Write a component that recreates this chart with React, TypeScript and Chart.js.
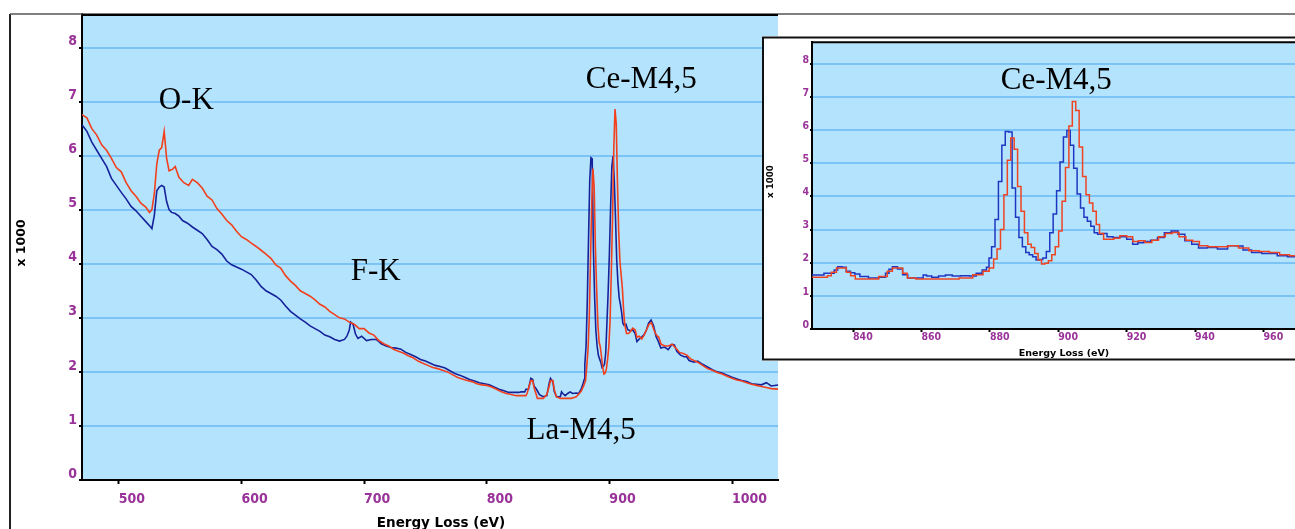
import React, { useEffect, useRef } from 'react';
import { Chart, registerables } from 'chart.js';

Chart.register(...registerables);

// ---- data: [energy loss (eV), counts x1000] ----
const RED_LOW: [number, number][] = [
  [470, 6.76], [474, 6.7], [478, 6.5], [482, 6.38], [486, 6.2], [490, 6.1], [494, 5.95], [498, 5.78],
  [502, 5.7], [506, 5.5], [510, 5.35], [514, 5.25], [518, 5.12], [522, 5.05], [525, 4.95], [527, 5.0],
  [529, 5.3], [531, 5.85], [533, 6.1], [535, 6.15], [537, 6.45], [539, 5.95], [541, 5.72], [544, 5.75],
  [546, 5.8], [549, 5.6], [553, 5.5], [557, 5.45], [560, 5.56], [564, 5.5], [568, 5.4], [572, 5.25],
  [576, 5.18], [580, 5.02], [584, 4.92], [588, 4.8], [592, 4.72], [596, 4.6], [600, 4.5], [604, 4.45],
  [608, 4.38], [612, 4.32], [616, 4.25], [620, 4.18], [624, 4.1], [628, 3.98], [632, 3.92], [636, 3.78],
  [640, 3.68], [644, 3.6], [648, 3.5], [652, 3.45], [656, 3.4], [660, 3.33], [664, 3.25], [668, 3.2],
  [672, 3.12], [676, 3.06], [680, 3.0], [684, 2.98], [688, 2.92], [692, 2.88], [696, 2.8], [700, 2.8],
  [704, 2.72], [708, 2.68], [712, 2.58], [716, 2.52], [720, 2.48], [724, 2.42], [728, 2.38], [732, 2.35],
  [736, 2.3], [740, 2.26], [744, 2.2], [748, 2.16], [752, 2.12], [756, 2.08], [760, 2.06], [764, 2.03],
  [768, 2.0], [772, 1.95], [776, 1.9], [780, 1.87], [784, 1.84], [788, 1.82], [792, 1.78], [796, 1.76],
  [800, 1.75], [804, 1.72], [808, 1.68], [812, 1.63], [816, 1.6], [820, 1.58], [824, 1.56],
];
const RED_EDGE: [number, number][] = [
  [828, 1.56], [832, 1.56], [833, 1.61], [834.3, 1.71], [836, 1.84], [837.5, 1.84], [838.6, 1.71], [840, 1.61],
  [841.3, 1.51], [846, 1.51], [849, 1.58], [851, 1.74], [852, 1.84], [854, 1.84], [855, 1.68], [856.7, 1.54],
  [860, 1.51], [865, 1.51], [869, 1.51], [873, 1.54], [877, 1.64], [879, 1.74], [880.6, 1.84], [881.6, 2.11],
  [882.6, 2.41], [883.6, 3.0], [884.6, 4.05], [885.6, 5.09], [886.6, 5.76], [887.6, 5.42], [888.6, 4.3],
  [889.6, 3.55], [890.6, 2.9], [891.6, 2.56], [892.6, 2.46], [893.6, 2.28], [894.6, 2.08], [895.6, 1.96],
  [896.6, 1.98], [897.6, 2.06], [898.6, 2.24], [899.6, 2.48], [900.6, 2.96], [901.6, 3.85], [902.6, 4.87],
  [903.6, 6.12], [904.6, 6.86], [905.6, 6.59], [906.6, 5.49], [907.6, 4.6], [908.6, 4.05], [909.6, 3.8],
  [910.6, 3.55], [911.6, 3.15], [912.5, 2.88], [914, 2.71], [915.5, 2.71], [917, 2.74], [919, 2.81],
  [921, 2.78], [922.5, 2.64], [924.3, 2.66], [926.4, 2.61], [928.3, 2.68], [930.3, 2.78], [932.3, 2.88],
  [934.3, 2.91], [936.3, 2.78], [938.3, 2.68], [940.3, 2.64], [942.2, 2.51], [945.3, 2.48], [948.2, 2.48],
  [951.2, 2.51], [954.2, 2.44], [957.2, 2.36], [960.2, 2.34], [963.2, 2.31], [966.2, 2.24], [969, 2.21],
];
const RED_TAIL: [number, number][] = [
  [972, 2.18], [976, 2.12], [980, 2.06], [984, 2.03], [988, 1.99], [992, 1.96], [996, 1.92], [1000, 1.88],
  [1004, 1.85], [1008, 1.83], [1012, 1.8], [1016, 1.77], [1020, 1.75], [1024, 1.73], [1028, 1.71],
  [1032, 1.69], [1038, 1.68],
];

const BLUE_LOW: [number, number][] = [
  [470, 6.57], [474, 6.45], [478, 6.25], [482, 6.1], [486, 5.95], [490, 5.8], [494, 5.58], [498, 5.45],
  [502, 5.32], [506, 5.2], [510, 5.06], [514, 4.98], [518, 4.88], [522, 4.78], [526, 4.68], [527, 4.65],
  [529, 4.9], [531, 5.35], [533, 5.42], [535, 5.45], [537, 5.42], [539, 5.15], [541, 5.0], [543, 4.95],
  [546, 4.93], [549, 4.88], [552, 4.8], [556, 4.75], [560, 4.68], [564, 4.62], [568, 4.56], [572, 4.45],
  [576, 4.32], [580, 4.26], [584, 4.18], [588, 4.05], [592, 3.98], [596, 3.94], [600, 3.9], [604, 3.85],
  [608, 3.8], [612, 3.7], [616, 3.58], [620, 3.5], [624, 3.45], [628, 3.4], [632, 3.33], [636, 3.22],
  [640, 3.12], [644, 3.05], [648, 2.98], [652, 2.92], [656, 2.85], [660, 2.8], [664, 2.75], [668, 2.68],
  [672, 2.65], [676, 2.6], [680, 2.57], [684, 2.6], [686, 2.66], [688, 2.78], [689, 2.92], [691, 2.88],
  [693, 2.7], [695, 2.62], [698, 2.66], [702, 2.58], [706, 2.6], [710, 2.6], [714, 2.52], [718, 2.48],
  [722, 2.45], [726, 2.44], [730, 2.42], [734, 2.36], [738, 2.32], [742, 2.28], [746, 2.23], [750, 2.2],
  [754, 2.16], [758, 2.12], [762, 2.1], [766, 2.07], [770, 2.02], [774, 1.97], [778, 1.94], [782, 1.9],
  [786, 1.86], [790, 1.83], [794, 1.8], [798, 1.78], [802, 1.76], [806, 1.72], [810, 1.68], [814, 1.65],
  [818, 1.62], [822, 1.62], [826, 1.62],
];
const BLUE_EDGE: [number, number][] = [
  [828, 1.63], [831, 1.63], [832, 1.68], [834, 1.68], [835, 1.78], [836, 1.88], [837.5, 1.86], [838.5, 1.74],
  [840, 1.7], [841, 1.66], [843, 1.58], [846, 1.54], [849, 1.56], [850, 1.68], [851, 1.8], [852, 1.88],
  [854, 1.81], [855, 1.64], [857, 1.54], [860, 1.54], [861, 1.63], [862, 1.6], [864, 1.56], [866, 1.6],
  [868, 1.63], [870, 1.6], [873, 1.61], [875, 1.6], [877, 1.68], [878.5, 1.78], [879.5, 1.86], [880, 2.14],
  [881, 2.48], [882, 3.3], [883, 4.45], [884, 5.54], [885, 5.96], [886, 5.94], [887, 4.25], [888, 3.37],
  [889, 2.76], [890, 2.48], [891, 2.31], [892, 2.24], [893, 2.18], [894, 2.08], [895, 2.1], [896, 2.14],
  [897, 2.34], [898, 2.9], [899, 3.47], [900, 4.17], [901, 5.04], [902, 5.79], [903, 5.99], [904, 5.54],
  [905, 4.85], [906, 4.07], [907, 3.65], [908, 3.37], [909, 3.25], [910, 3.1], [911, 2.9], [912, 2.86],
  [913.5, 2.88], [915, 2.78], [917, 2.76], [919, 2.78], [921, 2.71], [922.5, 2.56], [924, 2.6], [926, 2.64],
  [928, 2.68], [930, 2.76], [932, 2.9], [934, 2.96], [936, 2.86], [938, 2.66], [940, 2.56], [942, 2.44],
  [945, 2.46], [948, 2.41], [951, 2.51], [953, 2.5], [955, 2.38], [958, 2.31], [961, 2.28], [963, 2.28],
  [965, 2.21], [969, 2.18],
];
const BLUE_TAIL: [number, number][] = [
  [972, 2.2], [976, 2.14], [980, 2.09], [984, 2.04], [988, 2.0], [992, 1.98], [996, 1.94], [1000, 1.9],
  [1004, 1.87], [1008, 1.84], [1012, 1.82], [1016, 1.78], [1020, 1.77], [1024, 1.76], [1028, 1.8],
  [1032, 1.74], [1038, 1.76],
];

const MAIN_X_TICKS = [500, 600, 700, 800, 900, 1000];
const INSET_X_TICKS = [840, 860, 880, 900, 920, 940, 960];
const Y_TICKS = [0, 1, 2, 3, 4, 5, 6, 7, 8];
const X_TITLE = 'Energy Loss (eV)';
const Y_TITLE = 'x 1000';

// edge labels, placed in data coordinates (energy, counts)
const MAIN_NOTES = [
  { text: 'O-K', e: 555, v: 6.87 },
  { text: 'F-K', e: 709.5, v: 3.7 },
  { text: 'Ce-M4,5', e: 926, v: 7.26 },
  { text: 'La-M4,5', e: 877, v: 0.76 },
];
const INSET_NOTES = [{ text: 'Ce-M4,5', e: 899.4, v: 7.25 }];

// ---- styles ----
const PLOT_BG = '#b4e3fd';
const GRID = '#7cc4f6';
const TICK_COLOR = '#993399';
const RED = '#f2401d';
const BLUE_MAIN = '#16229a';
const RED_INSET = '#ee4422';
const BLUE_INSET = '#1f36c2';
const TICK_FAMILY = "'DejaVu Sans Condensed', 'DejaVu Sans', sans-serif";
const TITLE_FAMILY = "'DejaVu Sans', sans-serif";
const NOTE_FONT = "31px 'Liberation Serif', 'Times New Roman', serif";

const toPts = (arr: [number, number][]) => arr.map(([x, y]) => ({ x, y }));
const RED_ALL = [...RED_LOW, ...RED_EDGE, ...RED_TAIL];
const BLUE_ALL = [...BLUE_LOW, ...BLUE_EDGE, ...BLUE_TAIL];
const plainLabel = (v: any) => String(v);

const mainDecor = {
  id: 'mainDecor',
  beforeDraw(chart: any) {
    const { ctx, chartArea: a } = chart;
    ctx.save();
    ctx.fillStyle = '#ffffff';
    ctx.fillRect(0, 0, chart.width, chart.height);
    ctx.fillStyle = PLOT_BG;
    ctx.fillRect(a.left, a.top, a.right - a.left, a.bottom - a.top);
    ctx.restore();
  },
  afterDraw(chart: any) {
    const { ctx, chartArea: a, scales } = chart;
    ctx.save();
    ctx.strokeStyle = '#222';
    ctx.lineWidth = 2;
    ctx.beginPath();
    ctx.moveTo(10, 14);
    ctx.lineTo(10, chart.height);
    ctx.stroke();
    ctx.strokeStyle = '#555';
    ctx.lineWidth = 1.5;
    ctx.beginPath();
    ctx.moveTo(10, 14);
    ctx.lineTo(chart.width, 14);
    ctx.stroke();
    ctx.strokeStyle = '#000';
    ctx.lineWidth = 2;
    ctx.beginPath();
    ctx.moveTo(a.left, a.top + 1);
    ctx.lineTo(a.right, a.top + 1);
    ctx.stroke();
    ctx.font = NOTE_FONT;
    ctx.fillStyle = '#000';
    ctx.textAlign = 'center';
    ctx.textBaseline = 'alphabetic';
    for (const n of MAIN_NOTES) {
      ctx.fillText(n.text, scales.x.getPixelForValue(n.e), scales.y.getPixelForValue(n.v));
    }
    ctx.font = `bold 13.5px ${TITLE_FAMILY}`;
    ctx.fillText(X_TITLE, (a.left + a.right) / 2 + 11, 527);
    ctx.translate(22, (a.top + a.bottom) / 2 - 4);
    ctx.rotate(-Math.PI / 2);
    ctx.textBaseline = 'middle';
    ctx.font = `bold 12.5px ${TITLE_FAMILY}`;
    ctx.fillText(Y_TITLE, 0, 0);
    ctx.restore();
  },
};

const insetDecor = {
  id: 'insetDecor',
  beforeDraw(chart: any) {
    const { ctx, chartArea: a } = chart;
    ctx.save();
    ctx.fillStyle = '#ffffff';
    ctx.fillRect(0, 0, chart.width, chart.height);
    ctx.fillStyle = PLOT_BG;
    ctx.fillRect(a.left, a.top, a.right - a.left, a.bottom - a.top);
    ctx.restore();
  },
  afterDraw(chart: any) {
    const { ctx, chartArea: a, scales } = chart;
    ctx.save();
    ctx.strokeStyle = '#111';
    ctx.lineWidth = 2;
    ctx.beginPath();
    ctx.moveTo(chart.width, 1.5);
    ctx.lineTo(1, 1.5);
    ctx.lineTo(1, chart.height - 1.5);
    ctx.lineTo(chart.width, chart.height - 1.5);
    ctx.stroke();
    ctx.strokeStyle = '#000';
    ctx.beginPath();
    ctx.moveTo(a.left, a.top);
    ctx.lineTo(a.right, a.top);
    ctx.stroke();
    ctx.font = NOTE_FONT;
    ctx.fillStyle = '#000';
    ctx.textAlign = 'center';
    ctx.textBaseline = 'alphabetic';
    for (const n of INSET_NOTES) {
      ctx.fillText(n.text, scales.x.getPixelForValue(n.e), scales.y.getPixelForValue(n.v));
    }
    ctx.font = `bold 9.5px ${TITLE_FAMILY}`;
    ctx.fillText(X_TITLE, 302, 320);
    ctx.translate(8.5, 145.5);
    ctx.rotate(-Math.PI / 2);
    ctx.textBaseline = 'middle';
    ctx.font = `bold 8.7px ${TITLE_FAMILY}`;
    ctx.fillText(Y_TITLE, 0, 0);
    ctx.restore();
  },
};

const setTicks = (vals: number[]) => (scale: any) => {
  scale.ticks = vals.map((value) => ({ value }));
};

export default function App() {
  const mainRef = useRef<HTMLCanvasElement>(null);
  const insetRef = useRef<HTMLCanvasElement>(null);

  useEffect(() => {
    const main = new Chart(mainRef.current as HTMLCanvasElement, {
      type: 'line',
      data: {
        datasets: [
          { data: toPts(RED_ALL), borderColor: RED, borderWidth: 1.6, pointRadius: 0, fill: false, tension: 0 },
          { data: toPts(BLUE_ALL), borderColor: BLUE_MAIN, borderWidth: 1.6, pointRadius: 0, fill: false, tension: 0 },
        ],
      },
      options: {
        animation: false,
        responsive: false,
        maintainAspectRatio: false,
        layout: { padding: { top: 14, right: 517, bottom: 0, left: 0 } },
        plugins: { legend: { display: false }, tooltip: { enabled: false }, title: { display: false } },
        scales: {
          x: {
            type: 'linear',
            min: 470,
            max: 1037.5,
            afterBuildTicks: setTicks(MAIN_X_TICKS),
            afterFit: (s: any) => { s.height = 49; },
            grid: { drawOnChartArea: false, drawTicks: true, tickLength: 4, tickColor: '#000', tickWidth: 2 },
            border: { display: true, color: '#000', width: 2 },
            ticks: {
              align: 'start',
              color: TICK_COLOR,
              font: { family: TICK_FAMILY, size: 14, weight: 'bold', lineHeight: 1 },
              padding: 8,
              maxRotation: 0,
              autoSkip: false,
              callback: plainLabel,
            },
          },
          y: {
            type: 'linear',
            min: 0,
            max: 8.62,
            afterBuildTicks: setTicks(Y_TICKS),
            afterFit: (s: any) => { s.width = 82; },
            grid: { color: GRID, lineWidth: 2, drawTicks: true, tickLength: 3, tickColor: '#000', tickWidth: 2 },
            border: { display: true, color: '#000', width: 2 },
            ticks: {
              color: TICK_COLOR,
              font: { family: TICK_FAMILY, size: 14, weight: 'bold', lineHeight: 1 },
              padding: 2,
              labelOffset: -6,
              autoSkip: false,
              callback: plainLabel,
            },
          },
        },
      } as any,
      plugins: [mainDecor],
    });

    const inset = new Chart(insetRef.current as HTMLCanvasElement, {
      type: 'line',
      data: {
        datasets: [
          { data: toPts(RED_ALL), borderColor: RED_INSET, borderWidth: 1.5, pointRadius: 0, fill: false, stepped: 'middle' },
          { data: toPts(BLUE_ALL), borderColor: BLUE_INSET, borderWidth: 1.5, pointRadius: 0, fill: false, stepped: 'middle' },
        ],
      },
      options: {
        animation: false,
        responsive: false,
        maintainAspectRatio: false,
        layout: { padding: { top: 4, right: 0, bottom: 0, left: 0 } },
        plugins: { legend: { display: false }, tooltip: { enabled: false }, title: { display: false } },
        scales: {
          x: {
            type: 'linear',
            min: 828,
            max: 969.2,
            afterBuildTicks: setTicks(INSET_X_TICKS),
            afterFit: (s: any) => { s.height = 32; },
            grid: { drawOnChartArea: false, drawTicks: true, tickLength: 3, tickColor: '#000', tickWidth: 2 },
            border: { display: true, color: '#000', width: 2 },
            ticks: {
              align: 'start',
              color: TICK_COLOR,
              font: { family: TICK_FAMILY, size: 10.5, weight: 'bold', lineHeight: 1 },
              padding: 0,
              maxRotation: 0,
              autoSkip: false,
              callback: plainLabel,
            },
          },
          y: {
            type: 'linear',
            min: 0,
            max: 8.65,
            afterBuildTicks: setTicks(Y_TICKS),
            afterFit: (s: any) => { s.width = 50; },
            grid: { color: GRID, lineWidth: 2, drawTicks: true, tickLength: 2, tickColor: '#000', tickWidth: 2 },
            border: { display: true, color: '#000', width: 2 },
            ticks: {
              color: TICK_COLOR,
              font: { family: TICK_FAMILY, size: 10.5, weight: 'bold', lineHeight: 1 },
              padding: 1,
              labelOffset: -4,
              autoSkip: false,
              callback: plainLabel,
            },
          },
        },
      } as any,
      plugins: [insetDecor],
    });

    return () => {
      main.destroy();
      inset.destroy();
    };
  }, []);

  return (
    <div style={{ position: 'absolute', left: 0, top: 0, width: 1295, height: 529, background: '#fff', overflow: 'hidden' }}>
      <canvas ref={mainRef} width={1295} height={529} style={{ position: 'absolute', left: 0, top: 0 }} />
      <canvas ref={insetRef} width={533} height={325} style={{ position: 'absolute', left: 762, top: 36 }} />
    </div>
  );
}
